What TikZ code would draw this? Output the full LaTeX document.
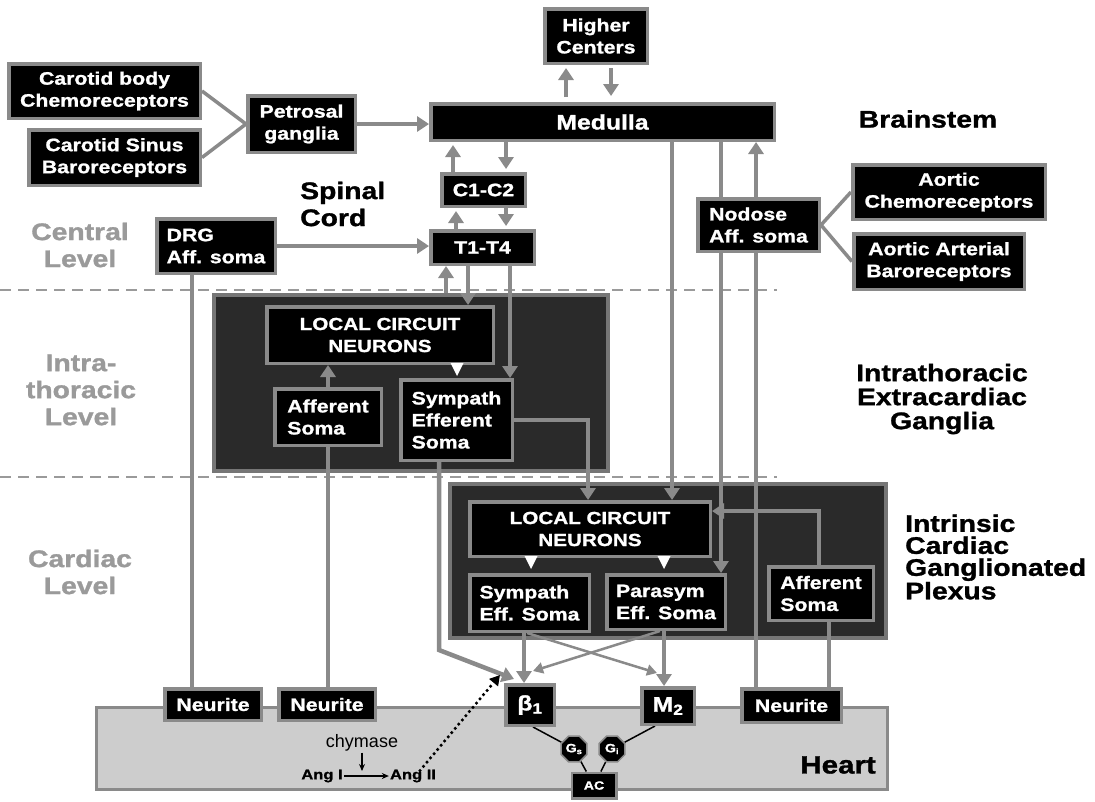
\documentclass[tikz,border=0pt]{standalone}
\usepackage{fontspec}
\newfontfamily\bxf{Liberation Sans}[FakeStretch=1.18,FakeBold=1.2]
\newfontfamily\rgf{Liberation Sans}
\usetikzlibrary{arrows.meta,shapes.geometric,calc}
\definecolor{lg}{HTML}{8A8A8A}
\definecolor{lvgray}{HTML}{9A9A9A}
\definecolor{dkbox}{HTML}{2A2A2A}
\definecolor{dkborder}{HTML}{767676}
\definecolor{heartfill}{HTML}{CDCDCD}
\pgfdeclarelayer{bg}
\pgfdeclarelayer{mid}
\pgfsetlayers{bg,mid,main}
\tikzset{
  box/.style={draw=lg, line width=3.5pt, fill=black, text=white, align=center, inner sep=0pt,
    font=\bxf\bfseries\fontsize{18}{22}\selectfont},
  gang/.style={draw=dkborder, line width=4pt, fill=dkbox},
  heartst/.style={draw=lg, line width=3pt, fill=heartfill},
  conn/.style={draw=lg, line width=3.5pt},
  arr/.style={conn, -{Triangle[width=15pt,length=12pt]}},
  thinarr/.style={draw=lg, line width=2.5pt, -{Triangle[width=11pt,length=10pt]}},
  bond/.style={draw=black, line width=1.5pt},
  blk/.style={draw=black, line width=1.3pt, -{Stealth[length=7pt,width=6pt]}},
  lbl/.style={font=\bxf\bfseries\fontsize{24}{27}\selectfont, align=center, inner sep=0pt},
  lvl/.style={lbl, text=lvgray},
  oct/.style={regular polygon, regular polygon sides=8, minimum size=28pt, fill=black, draw=lg,
    line width=1.5pt, text=white, inner sep=0pt, font=\bxf\bfseries\fontsize{12}{12}\selectfont},
  dashsep/.style={draw=lvgray, line width=2pt, dash pattern=on 11pt off 7pt},
  wtri/.style={fill=white}
}
\newcommand\mkbox[7][]{%
  \pgfmathsetmacro\mbw{#5-#3-3.5}\pgfmathsetmacro\mbh{#6-#4-3.5}%
  \pgfmathsetmacro\mbx{(#3+#5)/2}\pgfmathsetmacro\mby{(#4+#6)/2}%
  \node[box,#1,minimum width=\mbw pt,minimum height=\mbh pt] (#2) at (\mbx,\mby) {#7};}
\begin{document}
\begin{tikzpicture}[x=1pt,y=-1pt]
\useasboundingbox (0,0) rectangle (1095,801);

% ---------- background: ganglia, heart, level separators
\begin{pgfonlayer}{bg}
  \fill[white] (0,0) rectangle (1095,801);
  \draw[dashsep] (0,290) -- (777,290);
  \draw[dashsep] (0,477) -- (777,477);
  \mkbox[heartst]{heart}{95}{706}{889}{791}{}
  \mkbox[gang]{itbox}{212}{293}{610}{473}{}
  \mkbox[gang]{cbox}{448}{482}{888}{640}{}
\end{pgfonlayer}

% ---------- boxes
\mkbox{higher}{543}{7}{649}{65}{Higher\\Centers}
\mkbox[font=\bxf\bfseries\fontsize{21}{24}\selectfont]{medulla}{429}{102}{776}{142}{Medulla}
\mkbox{carbody}{7}{62}{202}{120}{Carotid body\\Chemoreceptors}
\mkbox{carsinus}{27}{128}{202}{187}{Carotid Sinus\\Baroreceptors}
\mkbox{petrosal}{246}{94}{357}{154}{Petrosal\\ganglia}
\mkbox{c1c2}{440}{172}{527}{208}{C1-C2}
\mkbox{t1t4}{429}{229}{536}{266}{T1-T4}
\mkbox[align=left]{drg}{155}{217}{277}{275}{DRG\\Aff. soma}
\mkbox[align=left]{nodose}{696}{197}{821}{253}{Nodose\\Aff. soma}
\mkbox{achemo}{851}{163}{1047}{221}{Aortic\\Chemoreceptors}
\mkbox{abaro}{852}{232}{1026}{291}{Aortic Arterial\\Baroreceptors}

\mkbox[font=\bxf\bfseries\fontsize{17.5}{22}\selectfont]{itlcn}{265}{305}{495}{365}{LOCAL CIRCUIT\\NEURONS}
\mkbox[align=left]{itaff}{273}{387}{383}{447}{Afferent\\Soma}
\mkbox[align=left]{itse}{399}{378}{514}{462}{Sympath\\Efferent\\Soma}

\mkbox[font=\bxf\bfseries\fontsize{17.5}{22}\selectfont]{clcn}{468}{500}{712}{558}{LOCAL CIRCUIT\\NEURONS}
\mkbox[align=left]{csymp}{468}{573}{591}{633}{Sympath\\Eff. Soma}
\mkbox[align=left]{cpara}{605}{573}{727}{631}{Parasym\\Eff. Soma}
\mkbox[align=left]{caff}{767}{565}{875}{622}{Afferent\\Soma}

\mkbox{neu1}{163}{687}{263}{722}{Neurite}
\mkbox{neu2}{277}{687}{377}{722}{Neurite}
\mkbox{neu3}{740}{687}{843}{724}{Neurite}
\mkbox[font=\bxf\bfseries\fontsize{21}{22}\selectfont]{beta}{504}{683}{556}{727}{β\textsubscript{1}}
\mkbox[font=\bxf\bfseries\fontsize{21}{22}\selectfont]{m2}{640}{686}{696}{726}{M\textsubscript{2}}
\node[oct] (gs) at (574,749) {G\textsubscript{s}};
\node[oct] (gi) at (612,749) {G\textsubscript{i}};
\mkbox[line width=2.5pt,font=\bxf\bfseries\fontsize{12}{12}\selectfont]{ac}{570}{771}{618}{800}{AC}

% ---------- labels
\node[lvl] (lvC) at (80,245) {Central\\Level};
\node[lvl] (lvI) at (81,390) {Intra-\\thoracic\\Level};
\node[lvl] (lvK) at (80,572) {Cardiac\\Level};
\node[lbl, align=left, anchor=west] (spinal) at (300,204) {Spinal\\Cord};
\node[lbl] (brain) at (928,119) {Brainstem};
\node[lbl, font=\bxf\bfseries\fontsize{24}{24}\selectfont] (itec) at (942,399) {Intrathoracic\\Extracardiac\\Ganglia};
\node[lbl, font=\bxf\bfseries\fontsize{24}{22}\selectfont, align=left, anchor=west] (icgp) at (905,557) {Intrinsic\\Cardiac\\Ganglionated\\Plexus};
\node[lbl, font=\bxf\bfseries\fontsize{25}{25}\selectfont, anchor=east] (heartlbl) at (876,765) {Heart};
\node[font=\rgf\fontsize{18}{18}\selectfont, inner sep=1pt] (chym) at (362,743) {chymase};
\node[font=\bxf\bfseries\fontsize{14}{14}\selectfont, inner sep=1pt] (ang1) at (322,776) {Ang I};
\node[font=\bxf\bfseries\fontsize{14}{14}\selectfont, inner sep=1pt] (ang2) at (413,776) {Ang II};

% ---------- connectors
\begin{pgfonlayer}{mid}
  \draw[conn] (carbody.east) -- (petrosal.west);
  \draw[conn] (carsinus.east) -- (petrosal.west);
  \draw[arr] (petrosal.east) -- (petrosal.east -| medulla.west);
  \draw[arr, shorten <=5pt, shorten >=3pt] (medulla.north -| 566,0) -- (higher.south -| 566,0);
  \draw[arr, shorten <=3pt, shorten >=6pt] (higher.south -| 611,0) -- (medulla.north -| 611,0);
  \draw[arr, shorten >=3pt] (c1c2.north -| 453,0) -- (medulla.south -| 453,0);
  \draw[arr, shorten >=3pt] (medulla.south -| 506,0) -- (c1c2.north -| 506,0);
  \draw[arr, shorten >=3pt] (t1t4.north -| 456,0) -- (c1c2.south -| 456,0);
  \draw[arr, shorten >=3pt] (c1c2.south -| 506,0) -- (t1t4.north -| 506,0);
  \draw[arr] (drg.east) -- (drg.east -| t1t4.west);
  \draw[arr] (itbox.north -| 446,0) -- (t1t4.south -| 446,0);
  \draw[arr] (t1t4.south -| 468,0) -- (itlcn.north -| 468,0);
  \draw[arr] (t1t4.south -| 510,0) -- (itse.north -| 510,0);
  \draw[arr] (itaff.north) -- (itlcn.south -| itaff.north);
  \draw[arr] (itse.east) -| (clcn.north -| 588,0);
  \draw[arr, line width=4.5pt] (itse.south -| 439,0) -- (439,650) -- ($(beta.north west)+(10,-4)$);
  \draw[arr] (medulla.south -| 672,0) -- (clcn.north -| 672,0);
  \draw[arr] (medulla.south -| 721,0) -- (cpara.north -| 721,0);
  \draw[arr] (neu3.north -| 756,0) -- (medulla.south -| 756,0);
  \draw[conn] (nodose.east) -- (achemo.west);
  \draw[conn] (nodose.east) -- (abaro.west);
  \draw[conn] (drg.south -| 192,0) -- (neu1.north -| 192,0);
  \draw[conn] (itaff.south) -- (neu2.north -| itaff.south);
  \draw[arr] (caff.north -| 819,0) |- (clcn.east |- 0,511);
  \draw[conn] (caff.south -| 829,0) -- (neu3.north -| 829,0);
  \draw[arr] (csymp.south -| 524,0) -- (beta.north -| 524,0);
  \draw[arr] (cpara.south -| 664,0) -- (m2.north -| 664,0);
  \draw[thinarr] (csymp.south -| 527,0) -- ($(m2.north)+(-11,-13)$);
  \draw[thinarr] (cpara.south -| 660,0) -- ($(beta.north)+(3,-12)$);
  \draw[bond] (beta.south -| 533,0) -- (gs);
  \draw[bond] (m2.south -| 655,0) -- (gi);
  \draw[bond] (gs) -- (ac);
  \draw[bond] (gi) -- (ac);
  \draw[draw=black, line width=3.5pt, line cap=round, dash pattern=on 0pt off 5.5pt,
        -{Triangle[width=11pt,length=10pt]}] ($(ang2.north)+(7,2)$) -- ($(beta.north west)+(-4,-8)$);
  \draw[blk] (chym.south) -- ($(chym.south |- ang1.center)+(0,-5)$);
  \draw[blk] (ang1.east) -- (ang2.west);
\end{pgfonlayer}

% ---------- white triangles below the local circuit neurons
\fill[wtri] ($(itlcn.south -| 457,0)+(-6.5,-2)$) -- ++(13,0) -- ++(-6.5,13) -- cycle;
\fill[wtri] ($(clcn.south -| 531,0)+(-6.5,-2)$) -- ++(13,0) -- ++(-6.5,13) -- cycle;
\fill[wtri] ($(clcn.south -| 664,0)+(-6.5,-2)$) -- ++(13,0) -- ++(-6.5,13) -- cycle;
\end{tikzpicture}
\end{document}
